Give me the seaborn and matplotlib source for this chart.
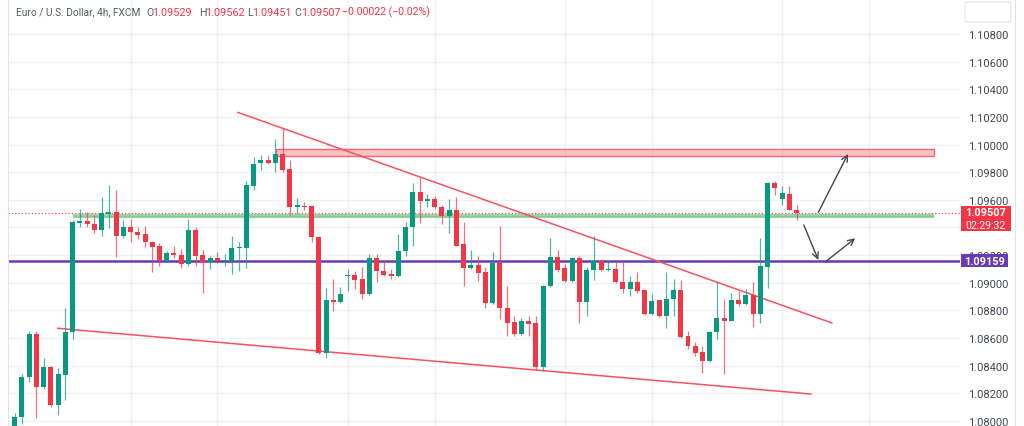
import numpy as np
import pandas as pd
import matplotlib
matplotlib.use("Agg")
import matplotlib.pyplot as plt
import seaborn as sns
from matplotlib.patches import Rectangle, FancyBboxPatch
from matplotlib.lines import Line2D

# ---------------- data (EUR/USD 4h candles) ----------------
opens = [1.07950, 1.08031, 1.08316, 1.08630, 1.08244, 1.08389, 1.08118, 1.08333, 1.08646, 1.09435,
         1.09449, 1.09423, 1.09384, 1.09498, 1.09510, 1.09336, 1.09406, 1.09370, 1.09353, 1.09297,
         1.09266, 1.09160, 1.09216, 1.09203, 1.09138, 1.09382, 1.09201, 1.09153, 1.09179, 1.09160,
         1.09160, 1.09250, 1.09252, 1.09703, 1.09867, 1.09888, 1.09867, 1.09930, 1.09823, 1.09546,
         1.09558, 1.09553, 1.09333, 1.08492, 1.08878, 1.08859, 1.09047, 1.09056, 1.09025, 1.08919,
         1.09177, 1.09085, 1.09063, 1.09047, 1.09232, 1.09401, 1.09655, 1.09590, 1.09606, 1.09550,
         1.09481, 1.09529, 1.09278, 1.09109, 1.09131, 1.09076, 1.08852, 1.09143, 1.08815, 1.08714,
         1.08630, 1.08726, 1.08709, 1.08389, 1.08975, 1.09184, 1.09107, 1.09015, 1.09179, 1.08863,
         1.09092, 1.09160, 1.09092, 1.09100, 1.09008, 1.08955, 1.09008, 1.08948, 1.08774, 1.08875,
         1.08758, 1.08883, 1.08948, 1.08613, 1.08545, 1.08497, 1.08432, 1.08642, 1.08743, 1.08726,
         1.08878, 1.08846, 1.08914, 1.08774, 1.09116, 1.09720, 1.09606, 1.09642, 1.09529]
highs = [1.08058, 1.08340, 1.08649, 1.08651, 1.08456, 1.08395, 1.08381, 1.08815, 1.09456, 1.09534,
         1.09514, 1.09490, 1.09623, 1.09710, 1.09674, 1.09456, 1.09462, 1.09406, 1.09413, 1.09300,
         1.09288, 1.09232, 1.09268, 1.09245, 1.09462, 1.09401, 1.09240, 1.09196, 1.09225, 1.09208,
         1.09341, 1.09297, 1.09739, 1.09908, 1.09925, 1.09925, 1.10040, 1.10120, 1.09890, 1.09616,
         1.09587, 1.09558, 1.09340, 1.08960, 1.09027, 1.08967, 1.09100, 1.09087, 1.09112, 1.09208,
         1.09208, 1.09160, 1.09100, 1.09353, 1.09438, 1.09722, 1.09768, 1.09642, 1.09630, 1.09563,
         1.09606, 1.09618, 1.09442, 1.09240, 1.09196, 1.09112, 1.09221, 1.09413, 1.08975, 1.08758,
         1.08743, 1.08762, 1.08762, 1.08984, 1.09322, 1.09237, 1.09136, 1.09182, 1.09191, 1.09112,
         1.09336, 1.09172, 1.09160, 1.09167, 1.09148, 1.09047, 1.09076, 1.08950, 1.08919, 1.08878,
         1.09080, 1.09027, 1.09020, 1.08653, 1.08574, 1.08545, 1.08650, 1.09003, 1.08883, 1.08926,
         1.08943, 1.08955, 1.09003, 1.09322, 1.09727, 1.09739, 1.09698, 1.09698, 1.09562]
lows = [1.07940, 1.07978, 1.08280, 1.08022, 1.08230, 1.08099, 1.08046, 1.08154, 1.08593, 1.09401,
        1.09406, 1.09360, 1.09341, 1.09396, 1.09184, 1.09322, 1.09297, 1.09317, 1.09257, 1.09076,
        1.09124, 1.09148, 1.09177, 1.09107, 1.09119, 1.09124, 1.08924, 1.09100, 1.09143, 1.09124,
        1.09064, 1.09087, 1.09107, 1.09674, 1.09818, 1.09859, 1.09799, 1.09804, 1.09490, 1.09498,
        1.09529, 1.09293, 1.08488, 1.08454, 1.08794, 1.08854, 1.08943, 1.08955, 1.08883, 1.08912,
        1.09003, 1.09047, 1.09027, 1.09045, 1.09196, 1.09264, 1.09430, 1.09546, 1.09534, 1.09425,
        1.09360, 1.09265, 1.08975, 1.09100, 1.09015, 1.08815, 1.08850, 1.08738, 1.08613, 1.08613,
        1.08625, 1.08613, 1.08371, 1.08364, 1.08967, 1.09080, 1.09008, 1.09008, 1.08709, 1.08762,
        1.09022, 1.09085, 1.09087, 1.08998, 1.08926, 1.08902, 1.08926, 1.08769, 1.08769, 1.08750,
        1.08673, 1.08762, 1.08598, 1.08521, 1.08472, 1.08347, 1.08428, 1.08593, 1.08340, 1.08721,
        1.08834, 1.08841, 1.08678, 1.08709, 1.08960, 1.09637, 1.09565, 1.09526, 1.09451]
closes = [1.08031, 1.08321, 1.08630, 1.08244, 1.08389, 1.08118, 1.08340, 1.08646, 1.09438, 1.09449,
          1.09423, 1.09384, 1.09505, 1.09510, 1.09336, 1.09406, 1.09365, 1.09348, 1.09293, 1.09261,
          1.09160, 1.09216, 1.09201, 1.09138, 1.09382, 1.09196, 1.09153, 1.09179, 1.09160, 1.09165,
          1.09252, 1.09257, 1.09708, 1.09859, 1.09888, 1.09867, 1.09930, 1.09818, 1.09546, 1.09563,
          1.09546, 1.09333, 1.08492, 1.08878, 1.08859, 1.08919, 1.09056, 1.09022, 1.08919, 1.09177,
          1.09085, 1.09058, 1.09051, 1.09232, 1.09401, 1.09655, 1.09590, 1.09606, 1.09546, 1.09485,
          1.09529, 1.09268, 1.09109, 1.09131, 1.09071, 1.08852, 1.09143, 1.08815, 1.08709, 1.08630,
          1.08726, 1.08702, 1.08389, 1.08979, 1.09184, 1.09095, 1.09015, 1.09179, 1.08863, 1.09095,
          1.09160, 1.09092, 1.09100, 1.09003, 1.08955, 1.09008, 1.08943, 1.08774, 1.08870, 1.08758,
          1.08883, 1.08948, 1.08610, 1.08545, 1.08492, 1.08432, 1.08646, 1.08743, 1.08726, 1.08878,
          1.08846, 1.08914, 1.08774, 1.09119, 1.09722, 1.09684, 1.09647, 1.09527, 1.09507]

price_ticks = [1.08000, 1.08200, 1.08400, 1.08600, 1.08800, 1.09000, 1.09200, 1.09400,
               1.09600, 1.09800, 1.10000, 1.10200, 1.10400, 1.10600, 1.10800]
hidden_ticks = [1.09400]          # covered by the last-price label in the reference
time_grid_idx = [16, 28, 46, 58, 76, 88, 106, 118]

title_text = "Euro / U.S. Dollar, 4h, FXCM"
change_text = "\u22120.00022 (\u22120.02%)"
countdown_text = "02:29:32"

support_level = 1.09159          # purple line
green_level = 1.09485            # green support band
green_span = [8.0, 127.0]
zone_low, zone_high = 1.09919, 1.09968   # red resistance zone
zone_span = [36.1, 127.0]
upper_trend_x = [30.8, 112.9]
upper_trend_y = [1.10233, 1.08709]
lower_trend_x = [5.9, 110.0]
lower_trend_y = [1.08671, 1.08195]
arrow_starts = [(111.0, 1.09510), (109.0, 1.09418), (112.0, 1.09153)]
arrow_ends = [(115.1, 1.09932), (111.0, 1.09165), (116.1, 1.09322)]

# ---------------- styling ----------------
sns.set_theme(style="white")
plt.rcParams['font.family'] = ['Roboto', 'DejaVu Sans']

GREEN = '#089981'
RED = '#F23645'
GRID = '#eef0f4'
W, H = 1024, 427

df = pd.DataFrame({'open': opens, 'high': highs, 'low': lows, 'close': closes})
df['idx'] = np.arange(len(df))
df['up'] = df['close'] >= df['open']
df['color'] = np.where(df['up'], GREEN, RED)

fig = plt.figure(figsize=(W / 100, H / 100), dpi=100)
fig.patch.set_facecolor('white')
ax = fig.add_axes([8 / W, 0, 952 / W, 1])
ax.set_facecolor('white')

ax.set_xlim(-0.925, 130.57)
ax.set_ylim(1.079638, 1.110532)

# grid
ax.set_xticks(time_grid_idx)
ax.set_yticks(price_ticks)
ax.grid(True, color=GRID, lw=1)
ax.tick_params(axis='x', length=0, labelbottom=False)
ax.yaxis.tick_right()
ax.tick_params(axis='y', length=0, pad=5.8, labelsize=8, labelcolor='#434651')
ax.set_yticklabels(["" if v in hidden_ticks else f"{v:.5f}" for v in price_ticks])
for s in ax.spines.values():
    s.set_visible(False)

# resistance zone & green band
ax.add_patch(Rectangle((zone_span[0], zone_low), zone_span[1] - zone_span[0], zone_high - zone_low,
                       facecolor=(0.97, 0.32, 0.37, 0.35), edgecolor=(0.97, 0.32, 0.37, 0.85),
                       lw=1, zorder=2))
ax.hlines(green_level, green_span[0], green_span[1], color='#9fd5a8', lw=3.0, zorder=2)
ax.hlines(green_level, green_span[0], green_span[1], color='#86c994', lw=1.0, zorder=2)

# price lines
ax.axhline(support_level, color='#673ab7', lw=1.8, zorder=2)
ax.axhline(closes[-1], color=RED, lw=0.8, ls=(0, (1, 2)), zorder=2)

# trend lines
sns.lineplot(x=upper_trend_x, y=upper_trend_y, ax=ax, color='#f7525f', lw=1.1, zorder=3)
sns.lineplot(x=lower_trend_x, y=lower_trend_y, ax=ax, color='#f7525f', lw=1.1, zorder=3)

# candles
ax.vlines(df['idx'], df['low'], df['high'], colors=df['color'], lw=0.9, alpha=0.7, zorder=4)
body_bottom = np.minimum(df['open'], df['close'])
body_h = np.maximum(np.abs(df['close'] - df['open']), 0.00008)
ax.bar(df['idx'], body_h, bottom=body_bottom, width=0.69, color=df['color'], lw=0, zorder=5)

# arrows
for (sx, sy), (ex, ey) in zip(arrow_starts, arrow_ends):
    ax.annotate("", xy=(ex, ey), xytext=(sx, sy),
                arrowprops=dict(arrowstyle='->', color='#434651', lw=1.0,
                                mutation_scale=11, shrinkA=0, shrinkB=0), zorder=6)

# ---------------- figure-level decorations ----------------
def fx(px):
    return px / W

def fy(py):
    return 1 - py / H

# frame lines
fig.add_artist(Line2D([fx(8), fx(8)], [0, 1], color='#e0e3eb', lw=0.8))
fig.add_artist(Line2D([fx(1015), fx(1015)], [0, 1], color='#e0e3eb', lw=0.8))

# top-right button box
fig.add_artist(FancyBboxPatch((fx(965), fy(23)), fx(46), 20 / H,
                              boxstyle="round,pad=0,rounding_size=0.004",
                              facecolor='white', edgecolor='#e0e3eb', lw=0.8,
                              transform=fig.transFigure))

# price label boxes
fig.add_artist(Rectangle((fx(961), fy(231.7)), fx(50), 25 / H, facecolor=RED,
                         edgecolor='none', transform=fig.transFigure, zorder=5))
fig.text(fx(986), fy(213.0), f"{closes[-1]:.5f}", color='white', fontsize=7.8,
         fontweight='bold', ha='center', va='center', zorder=6)
fig.text(fx(986), fy(225.6), countdown_text, color='white', fontsize=7.6,
         ha='center', va='center', zorder=6)
fig.add_artist(Rectangle((fx(961), fy(268.3)), fx(47), 13.3 / H, facecolor='#673ab7',
                         edgecolor='none', transform=fig.transFigure, zorder=5))
fig.text(fx(984.5), fy(261.6), f"{support_level:.5f}", color='white', fontsize=7.8,
         fontweight='bold', ha='center', va='center', zorder=6)

# title legend line
GREY = '#555a66'
pieces = [(title_text, 15.7, GREY, 7.3), ("O", 146.7, GREY, 7.6), (f"{opens[-1]:.5f}", 152, RED, 7.8),
          ("H", 199, GREY, 7.6), (f"{highs[-1]:.5f}", 205, RED, 7.8), ("L", 247.5, GREY, 7.6),
          (f"{lows[-1]:.5f}", 252.5, RED, 7.8), ("C", 294.5, GREY, 7.6), (f"{closes[-1]:.5f}", 301, RED, 7.8),
          (change_text, 342, RED, 7.6)]
for txt, px, col, fs in pieces:
    fig.text(fx(px), fy(12.7), txt, color=col, fontsize=fs, ha='left', va='center')

fig.savefig("out.png", dpi=100, facecolor='white')
